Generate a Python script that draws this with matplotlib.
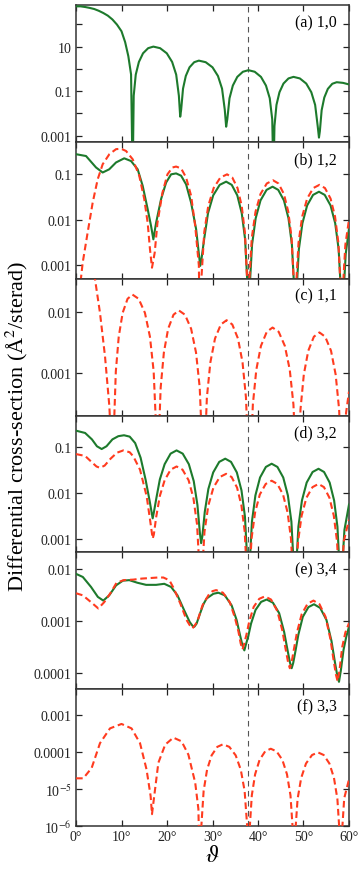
import numpy as np
import matplotlib
matplotlib.use("Agg")
import matplotlib.pyplot as plt
from matplotlib.ticker import FixedLocator, FixedFormatter, NullLocator

plt.rcParams['font.family'] = ['Liberation Serif', 'DejaVu Serif']
plt.rcParams['mathtext.fontset'] = 'stix'

GREEN = '#1d7a2c'
RED = '#ff3b1f'

# angles in degrees, values as log10 of the cross-section

# (a) 1,0
a_green_deg = [0, 1, 2, 3, 4, 5, 6, 7, 8, 9, 10, 10.8, 11.5, 12.1, 12.45,
               12.68, 13.13, 13.82, 14.73, 15.86, 17.0, 18.48, 19.95, 21.13, 22.02, 22.61, 22.9,
               23.11, 23.52, 24.13, 24.95, 25.98, 27.0, 28.5, 30.0, 31.2, 32.1, 32.7, 33.0,
               33.25, 33.74, 34.47, 35.45, 36.68, 37.9, 39.28, 40.65, 41.75, 42.58, 43.13, 43.4,
               43.62, 44.06, 44.72, 45.6, 46.7, 47.8, 49.2, 50.6, 51.72, 52.56, 53.12, 53.4,
               53.6, 53.99, 54.57, 55.35, 56.33, 57.3, 58.7, 60.0]
a_green_lg = [2.81, 2.81, 2.78, 2.74, 2.69, 2.61, 2.51, 2.39, 2.22, 1.99, 1.69, 1.2, 0.57, -0.25, -5,
              -1.21, -0.26, 0.31, 0.70, 0.93, 1.0, 0.93, 0.70, 0.31, -0.26, -1.21, -2.15,
              -1.84, -0.89, -0.32, 0.07, 0.30, 0.37, 0.30, 0.07, -0.32, -0.89, -1.84, -2.6,
              -2.27, -1.32, -0.75, -0.36, -0.13, -0.06, -0.13, -0.36, -0.75, -1.32, -2.27, -5,
              -2.57, -1.62, -1.05, -0.66, -0.43, -0.36, -0.43, -0.66, -1.05, -1.62, -2.57, -3.09,
              -2.8, -1.86, -1.29, -0.90, -0.67, -0.60, -0.63, -0.70]

# (b) 1,2
b_green_deg = [0, 2.2, 4.4, 5.86, 7.3, 8.8, 10.6, 12.1, 13.55, 14.65, 15.75, 16.5, 17.0, 17.6, 18.7,
               19.8, 20.9, 22.0, 23.1, 24.2, 25.3, 26.4, 27.3,
               27.59, 28.16, 29.01, 30.15, 31.58, 33.0, 34.23, 35.45, 36.43, 37.17, 37.66, 37.9,
               38.17, 38.7, 39.49, 40.55, 41.88, 43.2, 44.45, 45.7, 46.7, 47.45, 47.95, 48.2,
               48.46, 48.98, 49.76, 50.8, 52.1, 53.4, 54.67, 55.95, 56.97, 57.73, 58.24, 58.5,
               58.76, 59.28, 60.0]
b_green_lg = [-0.57, -0.61, -0.86, -0.97, -0.90, -0.75, -0.66, -0.72, -0.90, -1.26, -1.77, -2.14, -2.43, -2.07, -1.55,
              -1.19, -1.01, -0.99, -1.04, -1.23, -1.63, -2.21, -3.01,
              -2.85, -2.43, -1.86, -1.47, -1.24, -1.17, -1.24, -1.47, -1.86, -2.43, -3.38, -5,
              -3.49, -2.54, -1.97, -1.58, -1.35, -1.28, -1.35, -1.58, -1.97, -2.54, -3.49, -5,
              -3.6, -2.65, -2.08, -1.69, -1.46, -1.39, -1.46, -1.69, -2.08, -2.65, -3.6, -5,
              -3.7, -2.75, -2.2]
b_red_deg = [0.5, 1.47, 2.56, 3.66, 4.76, 5.86, 7.33, 8.8, 9.9, 11.0, 12.45, 13.9, 15.0, 15.75, 16.26, 16.7,
             17.3, 17.9, 19.0, 20.1, 21.2, 22.0, 23.1, 24.2, 25.3, 26.2, 27.0, 27.3,
             27.6, 28.19, 29.07, 30.25, 31.73, 33.2, 34.35, 35.5, 36.42, 37.11, 37.57, 37.8,
             38.08, 38.63, 39.45, 40.55, 41.93, 43.3, 44.5, 45.7, 46.66, 47.38, 47.86, 48.1,
             48.37, 48.91, 49.72, 50.8, 52.15, 53.5, 54.72, 55.95, 56.93, 57.66, 58.15, 58.4,
             58.66, 59.2, 60.0]
b_red_lg = [-3.8, -2.94, -2.28, -1.63, -1.12, -0.79, -0.57, -0.46, -0.45, -0.50, -0.68, -1.04, -1.55, -2.07, -2.65, -3.05,
            -2.72, -2.07, -1.41, -1.01, -0.86, -0.84, -0.88, -1.08, -1.48, -2.14, -3.0, -5,
            -3.22, -2.27, -1.70, -1.31, -1.08, -1.01, -1.08, -1.31, -1.70, -2.27, -3.22, -5,
            -3.35, -2.4, -1.83, -1.44, -1.21, -1.14, -1.21, -1.44, -1.83, -2.4, -3.35, -5,
            -3.45, -2.5, -1.93, -1.54, -1.31, -1.24, -1.31, -1.54, -1.93, -2.5, -3.45, -5,
            -3.5, -2.55, -2.0]

# (c) 1,1
c_red_deg = [2.5, 4.18, 5.27, 6.37, 7.33, 7.8, 8.1,
             8.32, 8.75, 9.39, 10.25, 11.33, 12.4, 13.77, 15.15, 16.25, 17.07, 17.62, 17.9,
             18.14, 18.61, 19.31, 20.25, 21.43, 22.6, 23.95, 25.3, 26.38, 27.19, 27.73, 28.0,
             28.26, 28.77, 29.53, 30.55, 31.83, 33.1, 34.35, 35.6, 36.6, 37.35, 37.85, 38.1,
             38.36, 38.87, 39.63, 40.65, 41.93, 43.2, 44.55, 45.9, 46.98, 47.79, 48.33, 48.6,
             48.85, 49.34, 50.07, 51.05, 52.28, 53.5, 54.77, 56.05, 57.07, 57.83, 58.34, 58.6,
             58.85, 59.35, 60.0]
c_red_lg = [-0.7, -1.46, -2.01, -2.72, -3.54, -4.3, -5,
            -3.92, -2.97, -2.40, -2.01, -1.78, -1.71, -1.78, -2.01, -2.40, -2.97, -3.92, -5,
            -4.18, -3.23, -2.66, -2.27, -2.04, -1.97, -2.04, -2.27, -2.66, -3.23, -4.18, -5,
            -4.34, -3.39, -2.82, -2.43, -2.20, -2.13, -2.20, -2.43, -2.82, -3.39, -4.34, -5,
            -4.46, -3.51, -2.94, -2.55, -2.32, -2.25, -2.32, -2.55, -2.94, -3.51, -4.46, -5,
            -4.54, -3.59, -3.02, -2.63, -2.40, -2.33, -2.40, -2.63, -3.02, -3.59, -4.54, -5,
            -4.5, -3.65, -3.3]

# (d) 3,2
d_green_deg = [0, 2.0, 3.5, 4.6, 5.64, 6.7, 8.0, 9.3, 10.55, 11.8, 13.0, 14.2, 15.3, 16.2, 16.85,
               17.11, 17.64, 18.43, 19.48, 20.79, 22.1, 23.45, 24.8, 25.88, 26.69, 27.23, 27.5,
               27.77, 28.3, 29.09, 30.15, 31.48, 32.8, 34.07, 35.35, 36.37, 37.13, 37.64, 37.9,
               38.16, 38.67, 39.43, 40.45, 41.73, 43.0, 44.27, 45.55, 46.57, 47.34, 47.85, 48.1,
               48.36, 48.88, 49.66, 50.7, 52.0, 53.3, 54.52, 55.75, 56.73, 57.46, 57.95, 58.2,
               58.45, 59.0, 60.0]
d_green_lg = [-0.64, -0.69, -0.83, -0.98, -1.04, -0.98, -0.83, -0.76, -0.74, -0.77, -0.91, -1.23, -1.71, -2.18, -2.55,
              -2.42, -2.12, -1.70, -1.37, -1.14, -1.07, -1.14, -1.37, -1.74, -2.26, -2.87, -3.09,
              -2.94, -2.41, -1.91, -1.55, -1.32, -1.25, -1.32, -1.55, -1.94, -2.51, -3.46, -5,
              -3.57, -2.62, -2.05, -1.66, -1.43, -1.36, -1.43, -1.66, -2.05, -2.62, -3.57, -5,
              -3.68, -2.73, -2.16, -1.77, -1.54, -1.47, -1.54, -1.77, -2.16, -2.73, -3.68, -5,
              -3.7, -2.8, -2.25]
d_red_deg = [0, 2.0, 3.5, 4.5, 5.27, 6.3, 7.6, 9.0, 10.4, 11.8, 12.6, 14.07, 15.53, 16.3, 16.85,
             17.11, 17.64, 18.43, 19.48, 20.79, 22.1, 23.42, 24.75, 25.81, 26.6, 27.13, 27.4,
             27.68, 28.24, 29.08, 30.2, 31.6, 33.0, 34.2, 35.4, 36.36, 37.08, 37.56, 37.8,
             38.06, 38.58, 39.36, 40.4, 41.7, 43.0, 44.25, 45.5, 46.5, 47.25, 47.75, 48.0,
             48.27, 48.8, 49.59, 50.65, 51.98, 53.3, 54.5, 55.7, 56.66, 57.38, 57.86, 58.1,
             58.35, 58.85, 60.0]
d_red_lg = [-1.15, -1.19, -1.33, -1.42, -1.45, -1.40, -1.25, -1.12, -1.07, -1.11, -1.20, -1.49, -2.07, -2.6, -2.99,
            -2.90, -2.51, -2.06, -1.72, -1.49, -1.42, -1.49, -1.72, -2.11, -2.68, -3.63, -5,
            -3.79, -2.84, -2.27, -1.88, -1.65, -1.58, -1.65, -1.88, -2.27, -2.84, -3.79, -5,
            -3.94, -2.99, -2.42, -2.03, -1.80, -1.73, -1.80, -2.03, -2.42, -2.99, -3.94, -5,
            -4.01, -3.06, -2.49, -2.10, -1.87, -1.80, -1.87, -2.10, -2.49, -3.06, -4.01, -5,
            -4.0, -3.05, -2.58]

# (e) 3,4
e_green_deg = [0, 1.5, 3.3, 4.8, 6.0, 7.3, 8.8, 10.3, 11.7, 13.5, 15.4, 17.6, 19.4, 20.9, 22.3, 23.8,
               25.0, 25.6, 26.0, 26.5, 27.25, 28.0, 28.7, 30.2, 31.3, 32.7, 34.2, 35.3, 36.0, 36.6, 37.0,
               37.34, 37.86, 38.47, 39.45, 40.68, 41.9, 43.28, 44.65, 45.75, 46.44, 47.02, 47.4,
               47.74, 48.26, 48.87, 49.85, 51.08, 52.3, 53.67, 55.05, 56.15, 56.84, 57.42, 57.8,
               58.2, 58.8, 59.4, 60.0]
e_green_lg = [-2.10, -2.16, -2.35, -2.54, -2.61, -2.51, -2.32, -2.23, -2.22, -2.27, -2.31, -2.31, -2.29, -2.35, -2.51, -2.80,
              -3.02, -3.09, -3.11, -3.05, -2.86, -2.68, -2.57, -2.48, -2.46, -2.51, -2.70, -2.98, -3.25, -3.47, -3.56,
              -3.45, -3.29, -3.05, -2.79, -2.635, -2.59, -2.65, -2.85, -3.21, -3.53, -3.79, -3.90,
              -3.80, -3.56, -3.26, -2.92, -2.735, -2.68, -2.75, -2.98, -3.38, -3.75, -4.04, -4.16,
              -3.95, -3.55, -3.3, -3.11]
e_red_deg = [0, 1.5, 3.3, 4.9, 6.2, 7.7, 8.9, 10.5, 12.6, 14.5, 16.3, 18.0, 19.2, 20.2, 20.7, 21.5, 22.9, 24.3,
             25.0, 25.6, 26.2, 26.7, 27.8, 29.3, 30.0, 30.8, 32.3, 33.8, 34.9, 35.7, 36.2, 36.6,
             36.94, 37.46, 38.07, 39.05, 40.28, 41.5, 42.87, 44.25, 45.35, 46.04, 46.62, 47.0,
             47.36, 47.91, 48.56, 49.6, 50.9, 52.2, 53.52, 54.85, 55.91, 56.57, 57.13, 57.5,
             57.9, 58.5, 59.2, 60.0]
e_red_lg = [-2.47, -2.51, -2.64, -2.76, -2.64, -2.45, -2.27, -2.22, -2.21, -2.19, -2.18, -2.17, -2.17, -2.21, -2.25, -2.38, -2.66, -2.98,
            -3.08, -3.14, -3.07, -3.0, -2.70, -2.48, -2.43, -2.41, -2.46, -2.64, -2.93, -3.20, -3.43, -3.54,
            -3.44, -3.26, -3.01, -2.73, -2.576, -2.53, -2.59, -2.81, -3.18, -3.52, -3.79, -3.90,
            -3.80, -3.53, -3.22, -2.87, -2.67, -2.61, -2.68, -2.92, -3.34, -3.72, -4.02, -4.15,
            -3.95, -3.5, -3.22, -3.04]

# (f) 3,3
f_red_deg = [0, 1.6, 3.44, 5.27, 7.47, 10.0, 12.2, 14.07, 15.5, 16.4, 16.7, 17.1, 18.1, 19.6, 21.4, 23.2,
             24.7, 26.2, 26.9, 27.3,
             27.55, 28.05, 28.8, 29.8, 31.05, 32.3, 33.7, 35.1, 36.22, 37.06, 37.62, 37.9,
             38.15, 38.64, 39.37, 40.35, 41.58, 42.8, 44.07, 45.35, 46.37, 47.14, 47.65, 47.9,
             48.17, 48.7, 49.49, 50.55, 51.88, 53.2, 54.45, 55.7, 56.7, 57.45, 57.95, 58.2,
             58.45, 58.95, 60.0]
f_red_lg = [-4.71, -4.71, -4.43, -3.76, -3.36, -3.24, -3.36, -3.76, -4.47, -5.19, -5.68, -5.28, -4.29, -3.80, -3.61, -3.71,
            -4.07, -4.83, -5.54, -8,
            -6.0, -5.05, -4.48, -4.09, -3.86, -3.79, -3.86, -4.09, -4.48, -5.05, -6.0, -8,
            -6.12, -5.17, -4.60, -4.21, -3.98, -3.91, -3.98, -4.21, -4.60, -5.17, -6.12, -8,
            -6.22, -5.27, -4.70, -4.31, -4.08, -4.01, -4.08, -4.31, -4.70, -5.27, -6.22, -8,
            -6.2, -5.25, -4.74]

panel_labels = ['(a) 1,0', '(b) 1,2', '(c) 1,1', '(d) 3,2', '(e) 3,4', '(f) 3,3']
panel_ylims = [(-3.28, 2.87), (-3.29, -0.30), (-3.69, -1.45), (-3.29, -0.31), (-4.30, -1.69), (-6.0, -2.30)]
panel_ticks = [[2, 1, 0, -1, -2, -3], [-1, -2, -3], [-2, -3], [-1, -2, -3], [-2, -3, -4], [-3, -4, -5, -6]]
panel_ticklabels = [['', '10', '', '0.1', '', '0.001'],
                    ['0.1', '0.01', '0.001'],
                    ['0.01', '0.001'],
                    ['0.1', '0.01', '0.001'],
                    ['0.01', '0.001', '0.0001'],
                    ['0.001', '0.0001', r'10$^{-5}$', r'10$^{-6}$']]
panel_curves = [
    [(a_green_deg, a_green_lg, 'g')],
    [(b_green_deg, b_green_lg, 'g'), (b_red_deg, b_red_lg, 'r')],
    [(c_red_deg, c_red_lg, 'r')],
    [(d_green_deg, d_green_lg, 'g'), (d_red_deg, d_red_lg, 'r')],
    [(e_green_deg, e_green_lg, 'g'), (e_red_deg, e_red_lg, 'r')],
    [(f_red_deg, f_red_lg, 'r')],
]
x_ticks = [0, 10, 20, 30, 40, 50, 60]
marker_angle = 37.9

fig, axes = plt.subplots(6, 1, figsize=(3.63, 8.70), dpi=100, sharex=True)
fig.subplots_adjust(left=0.2094, right=0.9614, top=0.9931, bottom=0.0494, hspace=0)

for i, ax in enumerate(axes):
    for deg, lg, kind in panel_curves[i]:
        vals = 10.0 ** np.asarray(lg, dtype=float)
        if kind == 'g':
            ax.plot(deg, vals, color=GREEN, lw=1.5, zorder=3)
        else:
            ax.plot(deg, vals, color=RED, lw=1.5, dashes=(3.2, 1.8), zorder=4)

    ax.axvline(marker_angle, color='#555555', lw=0.8, dashes=(5, 4), zorder=2)

    ax.set_yscale('log')
    lo, hi = panel_ylims[i]
    ax.set_ylim(10 ** lo, 10 ** hi)
    ax.yaxis.set_major_locator(FixedLocator([10.0 ** t for t in panel_ticks[i]]))
    ax.yaxis.set_major_formatter(FixedFormatter(panel_ticklabels[i]))
    ax.yaxis.set_minor_locator(NullLocator())

    ax.set_xlim(0, 60)
    ax.set_xticks(x_ticks)
    ax.set_xticklabels([f'{v}°' for v in x_ticks])
    ax.tick_params(direction='in', length=4, width=0.9, top=True, right=True,
                   labelsize=10, pad=3, colors='#222222')
    if i < len(axes) - 1:
        ax.tick_params(labelbottom=False)

    for s in ax.spines.values():
        s.set_linewidth(1.1)
        s.set_color('#333333')

    ax.text(0.955, 0.875, panel_labels[i], transform=ax.transAxes,
            ha='right', va='center', fontsize=11.5)

axes[-1].set_xlabel(r'$\vartheta$', fontsize=17, labelpad=1)
fig.text(0.047, 0.51, 'Differential cross-section (Å$^2$/sterad)', rotation=90,
         ha='center', va='center', fontsize=16)

fig.savefig('out.png', dpi=100)
